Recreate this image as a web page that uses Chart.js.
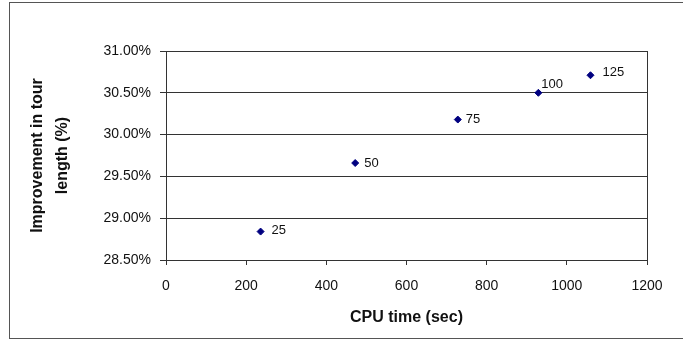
<!DOCTYPE html>
<html>
<head>
<meta charset="utf-8">
<script src="https://cdn.jsdelivr.net/npm/chart.js@4"></script>
<style>
  html, body { margin: 0; padding: 0; background: #fff; }
  #wrap { width: 683px; height: 340px; position: relative; }
</style>
</head>
<body>
<div id="wrap"><canvas id="cpuChart"></canvas></div>
<script>
// CPU time vs improvement, one point per run setting
const cpuTime = [236, 472, 728, 929, 1059];
const improvement = [28.84, 29.66, 30.18, 30.50, 30.71];
const pointLabels = ['25', '50', '75', '100', '125'];
const yTicks = [28.5, 29.0, 29.5, 30.0, 30.5, 31.0];
const xTicks = [0, 200, 400, 600, 800, 1000, 1200];

// frame around the whole chart + right edge of the plot box
const framePlugin = {
  id: 'frame',
  beforeDraw(chart) {
    const ctx = chart.ctx;
    ctx.save();
    ctx.strokeStyle = '#555';
    ctx.lineWidth = 1;
    ctx.strokeRect(9.5, 2.5, 700, 336);
    ctx.restore();
  },
  afterDraw(chart) {
    const a = chart.chartArea;
    const ctx = chart.ctx;
    ctx.save();
    ctx.strokeStyle = '#333';
    ctx.lineWidth = 1;
    ctx.beginPath();
    ctx.moveTo(Math.round(a.right) + 0.5, Math.round(a.top));
    ctx.lineTo(Math.round(a.right) + 0.5, Math.round(a.bottom) + 1);
    ctx.stroke();
    ctx.restore();
  }
};

// text next to each point
const pointLabelPlugin = {
  id: 'pointText',
  afterDatasetsDraw(chart, args, opts) {
    const ctx = chart.ctx;
    const meta = chart.getDatasetMeta(0);
    ctx.save();
    ctx.font = '13px "Liberation Sans", Arial, sans-serif';
    ctx.fillStyle = '#111';
    ctx.textBaseline = 'middle';
    ctx.textAlign = 'left';
    meta.data.forEach((pt, i) => {
      const s = opts.shift[i] || [9, 0];
      ctx.fillText(pointLabels[i], pt.x + s[0], pt.y + s[1]);
    });
    ctx.restore();
  }
};

new Chart(document.getElementById('cpuChart'), {
  type: 'scatter',
  data: {
    datasets: [{
      data: cpuTime.map((x, i) => ({ x: x, y: improvement[i] })),
      backgroundColor: '#000080',
      borderColor: '#000080',
      pointStyle: 'rectRot',
      pointRadius: 3.5,
      pointHoverRadius: 3.5
    }]
  },
  options: {
    responsive: true,
    maintainAspectRatio: false,
    animation: false,
    layout: { padding: { left: 9, top: 51, right: 36, bottom: 0 } },
    plugins: {
      legend: { display: false },
      tooltip: { enabled: false },
      pointText: { shift: [[11, -1], [9, 0], [8, 0], [3, -8], [12, -3]] }
    },
    scales: {
      x: {
        type: 'linear',
        min: xTicks[0],
        max: xTicks[xTicks.length - 1],
        afterFit(scale) { scale.height = 80; },
        afterBuildTicks(scale) { scale.ticks = xTicks.map(v => ({ value: v })); },
        ticks: {
          color: '#111',
          padding: 13,
          font: { family: '"Liberation Sans", Arial, sans-serif', size: 14 },
          maxRotation: 0,
          callback: v => String(v)
        },
        grid: { drawOnChartArea: false, drawTicks: true, tickLength: 5, color: '#333' },
        border: { color: '#333' },
        title: {
          display: true,
          text: 'CPU time (sec)',
          color: '#111',
          padding: { top: 0, bottom: 13 },
          font: { family: '"Liberation Sans", Arial, sans-serif', size: 16, weight: 'bold' }
        }
      },
      y: {
        type: 'linear',
        min: yTicks[0],
        max: yTicks[yTicks.length - 1],
        afterFit(scale) { scale.width = 157; },
        afterBuildTicks(scale) { scale.ticks = yTicks.map(v => ({ value: v })); },
        ticks: {
          color: '#111',
          padding: 9,
          font: { family: '"Liberation Sans", Arial, sans-serif', size: 14 },
          callback: v => v.toFixed(2) + '%'
        },
        grid: { color: '#333', tickLength: 6 },
        border: { color: '#333' },
        title: {
          display: true,
          text: ['Improvement in tour', 'length (%)'],
          color: '#111',
          padding: { top: 16, bottom: 0 },
          font: { family: '"Liberation Sans", Arial, sans-serif', size: 16, weight: 'bold', lineHeight: 1.5625 }
        }
      }
    }
  },
  plugins: [framePlugin, pointLabelPlugin]
});
</script>
</body>
</html>
